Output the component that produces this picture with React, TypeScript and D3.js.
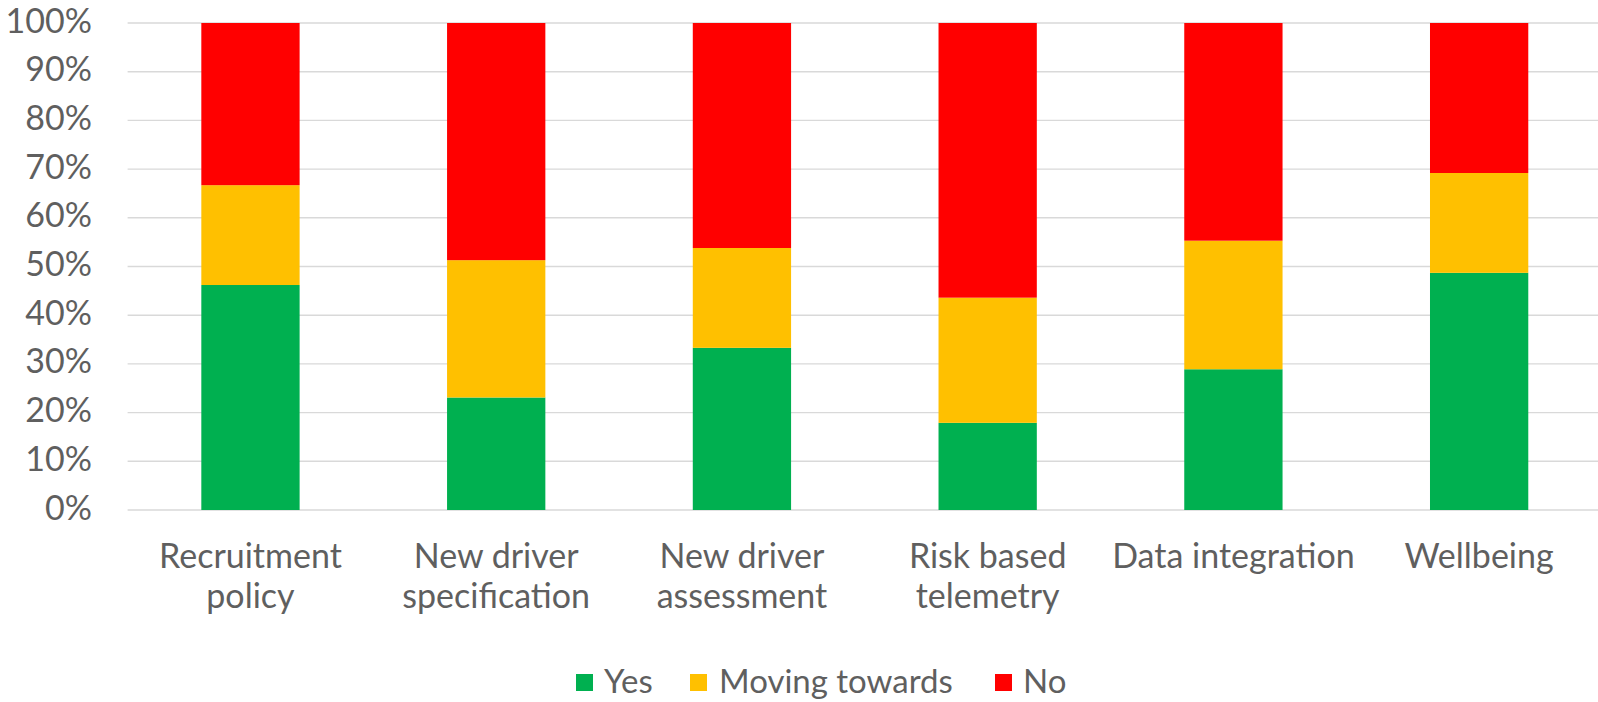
import React from "react";
import * as d3 from "d3";

// Survey categories (one bar each) and the share of answers per response
const categories = [
  "Recruitment policy",
  "New driver specification",
  "New driver assessment",
  "Risk based telemetry",
  "Data integration",
  "Wellbeing",
];
const yesValues = [46.2, 23.1, 33.3, 17.9, 28.9, 48.7];
const movingValues = [20.5, 28.2, 20.5, 25.7, 26.4, 20.5];
const noValues = [33.3, 48.7, 46.2, 56.4, 44.7, 30.8];

const seriesKeys = ["Yes", "Moving towards", "No"];
const seriesColors = ["#00B050", "#FFC000", "#FF0000"];
const yTicks = [0, 10, 20, 30, 40, 50, 60, 70, 80, 90, 100];

// Two-line wrapping of the category labels
const categoryLines: Record<string, string[]> = {
  "Recruitment policy": ["Recruitment", "policy"],
  "New driver specification": ["New driver", "specification"],
  "New driver assessment": ["New driver", "assessment"],
  "Risk based telemetry": ["Risk based", "telemetry"],
  "Data integration": ["Data integration"],
  Wellbeing: ["Wellbeing"],
};

const W = 1598;
const H = 702;
const FONT = "Lato, 'Open Sans', sans-serif";
const TEXT = "#5f5f5f";
const FS = 34;

export default function App() {
  const rows = categories.map((c, i) => ({
    category: c,
    Yes: yesValues[i],
    "Moving towards": movingValues[i],
    No: noValues[i],
  }));
  const stacked = d3.stack<any>().keys(seriesKeys)(rows);

  const x = d3
    .scaleBand<string>()
    .domain(categories)
    .range([127.6, 1602])
    .paddingInner(0.6)
    .paddingOuter(0.3);
  const y = d3.scaleLinear().domain([0, 100]).range([510, 23]);

  const legendItems = [
    { key: "Yes", sx: 576, tx: 604 },
    { key: "Moving towards", sx: 690, tx: 719 },
    { key: "No", sx: 995, tx: 1023 },
  ];

  return (
    <div style={{ position: "fixed", left: 0, top: 0, width: W, height: H, background: "#fff" }}>
      <svg width={W} height={H} style={{ display: "block" }} fontFamily={FONT}>
        <rect width={W} height={H} fill="#fff" />
        {/* horizontal gridlines */}
        {yTicks.map((t) => (
          <line
            key={t}
            x1={127.6}
            x2={1602}
            y1={y(t)}
            y2={y(t)}
            stroke="#D9D9D9"
            strokeWidth={1.4}
          />
        ))}
        {/* y tick labels */}
        {yTicks.map((t) => (
          <text
            key={t}
            x={92}
            y={y(t) + 9.5}
            textAnchor="end"
            fontSize={FS}
            fill={TEXT}
          >
            {`${t}%`}
          </text>
        ))}
        {/* stacked bars */}
        {stacked.map((layer, li) => (
          <g key={layer.key} fill={seriesColors[li]}>
            {layer.map((d, i) => (
              <rect
                key={i}
                x={x(categories[i])}
                width={x.bandwidth()}
                y={y(d[1])}
                height={y(d[0]) - y(d[1])}
              />
            ))}
          </g>
        ))}
        {/* category labels */}
        {categories.map((c) => (
          <text
            key={c}
            x={(x(c) ?? 0) + x.bandwidth() / 2}
            y={568}
            textAnchor="middle"
            fontSize={FS}
            fill={TEXT}
          >
            {categoryLines[c].map((line, li) => (
              <tspan key={li} x={(x(c) ?? 0) + x.bandwidth() / 2} dy={li === 0 ? 0 : 40}>
                {line}
              </tspan>
            ))}
          </text>
        ))}
        {/* legend */}
        {legendItems.map((it) => {
          const idx = seriesKeys.indexOf(it.key);
          return (
            <g key={it.key}>
              <rect x={it.sx} y={674} width={17} height={17} fill={seriesColors[idx]} />
              <text x={it.tx} y={693} fontSize={33} fill={TEXT}>
                {it.key}
              </text>
            </g>
          );
        })}
      </svg>
    </div>
  );
}
